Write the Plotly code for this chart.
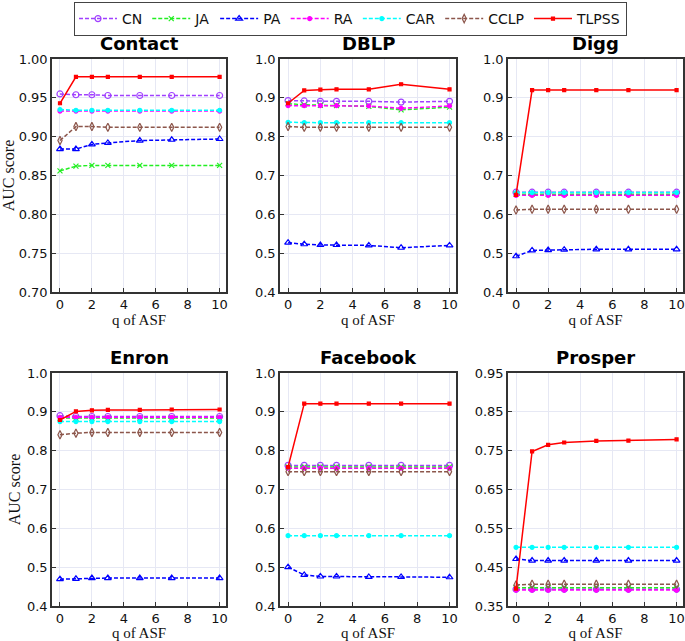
import plotly.graph_objects as go

q_values = [0, 1, 2, 3, 5, 7, 10]
datasets = ["Contact", "DBLP", "Digg", "Enron", "Facebook", "Prosper"]
methods = ["CN", "JA", "PA", "RA", "CAR", "CCLP", "TLPSS"]

contact = {
    "CN":    [0.955, 0.954, 0.954, 0.953, 0.953, 0.953, 0.953],
    "JA":    [0.856, 0.862, 0.863, 0.863, 0.863, 0.863, 0.863],
    "PA":    [0.884, 0.884, 0.890, 0.892, 0.895, 0.896, 0.897],
    "RA":    [0.933, 0.933, 0.933, 0.933, 0.933, 0.933, 0.933],
    "CAR":   [0.935, 0.934, 0.934, 0.934, 0.934, 0.934, 0.934],
    "CCLP":  [0.895, 0.913, 0.913, 0.912, 0.912, 0.912, 0.912],
    "TLPSS": [0.943, 0.977, 0.977, 0.977, 0.977, 0.977, 0.977],
}
dblp = {
    "CN":    [0.893, 0.892, 0.891, 0.891, 0.891, 0.889, 0.891],
    "JA":    [0.885, 0.882, 0.881, 0.880, 0.878, 0.869, 0.876],
    "PA":    [0.527, 0.523, 0.521, 0.521, 0.520, 0.514, 0.520],
    "RA":    [0.880, 0.880, 0.880, 0.880, 0.879, 0.873, 0.879],
    "CAR":   [0.837, 0.836, 0.836, 0.836, 0.836, 0.836, 0.836],
    "CCLP":  [0.826, 0.824, 0.824, 0.824, 0.824, 0.824, 0.824],
    "TLPSS": [0.886, 0.919, 0.921, 0.922, 0.922, 0.935, 0.922],
}
digg = {
    "CN":    [0.657, 0.657, 0.657, 0.657, 0.657, 0.657, 0.657],
    "JA":    [0.652, 0.652, 0.652, 0.652, 0.652, 0.652, 0.652],
    "PA":    [0.492, 0.507, 0.508, 0.509, 0.510, 0.510, 0.510],
    "RA":    [0.649, 0.649, 0.649, 0.649, 0.649, 0.649, 0.649],
    "CAR":   [0.656, 0.656, 0.656, 0.656, 0.656, 0.656, 0.656],
    "CCLP":  [0.611, 0.613, 0.613, 0.613, 0.613, 0.613, 0.613],
    "TLPSS": [0.650, 0.920, 0.920, 0.920, 0.920, 0.920, 0.920],
}
enron = {
    "CN":    [0.890, 0.888, 0.888, 0.888, 0.888, 0.888, 0.888],
    "JA":    [0.884, 0.884, 0.884, 0.884, 0.884, 0.884, 0.884],
    "PA":    [0.469, 0.470, 0.472, 0.472, 0.472, 0.472, 0.472],
    "RA":    [0.886, 0.886, 0.886, 0.886, 0.886, 0.886, 0.886],
    "CAR":   [0.875, 0.875, 0.875, 0.875, 0.875, 0.875, 0.875],
    "CCLP":  [0.841, 0.845, 0.847, 0.847, 0.847, 0.847, 0.847],
    "TLPSS": [0.879, 0.901, 0.904, 0.905, 0.905, 0.906, 0.906],
}
facebook = {
    "CN":    [0.762, 0.762, 0.762, 0.762, 0.762, 0.762, 0.762],
    "JA":    [0.758, 0.758, 0.758, 0.758, 0.758, 0.758, 0.758],
    "PA":    [0.500, 0.480, 0.476, 0.476, 0.475, 0.475, 0.474],
    "RA":    [0.755, 0.755, 0.755, 0.755, 0.755, 0.755, 0.755],
    "CAR":   [0.581, 0.581, 0.581, 0.581, 0.581, 0.581, 0.581],
    "CCLP":  [0.746, 0.746, 0.746, 0.746, 0.746, 0.746, 0.746],
    "TLPSS": [0.758, 0.921, 0.921, 0.921, 0.921, 0.921, 0.921],
}
prosper = {
    "CN":    [0.393, 0.393, 0.393, 0.393, 0.393, 0.393, 0.393],
    "JA":    [0.397, 0.397, 0.397, 0.397, 0.397, 0.397, 0.397],
    "PA":    [0.471, 0.467, 0.467, 0.467, 0.467, 0.467, 0.467],
    "RA":    [0.391, 0.391, 0.391, 0.391, 0.391, 0.391, 0.391],
    "CAR":   [0.501, 0.501, 0.501, 0.501, 0.501, 0.501, 0.501],
    "CCLP":  [0.404, 0.406, 0.406, 0.406, 0.406, 0.406, 0.406],
    "TLPSS": [0.395, 0.748, 0.765, 0.771, 0.775, 0.776, 0.779],
}
all_data = [contact, dblp, digg, enron, facebook, prosper]

y_ranges = [[0.70, 1.00], [0.4, 1.0], [0.4, 1.0], [0.4, 1.0], [0.4, 1.0], [0.35, 0.95]]
y_tickvals = [
    [0.70, 0.75, 0.80, 0.85, 0.90, 0.95, 1.00],
    [0.4, 0.5, 0.6, 0.7, 0.8, 0.9, 1.0],
    [0.4, 0.5, 0.6, 0.7, 0.8, 0.9, 1.0],
    [0.4, 0.5, 0.6, 0.7, 0.8, 0.9, 1.0],
    [0.4, 0.5, 0.6, 0.7, 0.8, 0.9, 1.0],
    [0.35, 0.45, 0.55, 0.65, 0.75, 0.85, 0.95],
]
y_ticktext = [
    ["0.70", "0.75", "0.80", "0.85", "0.90", "0.95", "1.00"],
    ["0.4", "0.5", "0.6", "0.7", "0.8", "0.9", "1.0"],
    ["0.4", "0.5", "0.6", "0.7", "0.8", "0.9", "1.0"],
    ["0.4", "0.5", "0.6", "0.7", "0.8", "0.9", "1.0"],
    ["0.4", "0.5", "0.6", "0.7", "0.8", "0.9", "1.0"],
    ["0.35", "0.45", "0.55", "0.65", "0.75", "0.85", "0.95"],
]
x_tickvals = [0, 2, 4, 6, 8, 10]

styles = {
    "CN":    dict(color="#a040ff", symbol="circle-open", size=6, dash="4px,2px"),
    "JA":    dict(color="#22ee22", symbol="x-thin-open", size=5, dash="4px,2px"),
    "PA":    dict(color="#0000ff", symbol="triangle-up-open", size=6, dash="4px,2px"),
    "RA":    dict(color="#ff00ff", symbol="circle", size=4, dash="4px,2px"),
    "CAR":   dict(color="#00ffff", symbol="circle", size=4, dash="4px,2px"),
    "CCLP":  dict(color="#8c564b", symbol="diamond-tall-open", size=6, dash="4px,2px"),
    "TLPSS": dict(color="#ff0000", symbol="square", size=3, dash="solid"),
}

W, H = 685, 641
x_px = [(52, 226), (280, 456), (508, 683)]
y_px = [(59, 292), (373, 606)]

fig = go.Figure()
for i, (name, data) in enumerate(zip(datasets, all_data)):
    ax = i + 1
    suffix = "" if ax == 1 else str(ax)
    for m in methods:
        s = styles[m]
        fig.add_trace(go.Scatter(
            x=q_values, y=data[m], mode="lines+markers", name=m,
            legendgroup=m, showlegend=(i == 0),
            line=dict(color=s["color"], width=1.5, dash=s["dash"]),
            marker=dict(symbol=s["symbol"], size=s["size"], color=s["color"],
                        line=dict(color=s["color"], width=1.2)),
            xaxis="x" + suffix, yaxis="y" + suffix,
        ))
    col, row = i % 3, i // 3
    xd = [x_px[col][0] / W, x_px[col][1] / W]
    yd = [1 - y_px[row][1] / H, 1 - y_px[row][0] / H]
    axis_common = dict(showline=True, linecolor="#333333", linewidth=1.5, mirror=True,
                       showgrid=True, gridcolor="#e6e8f4", gridwidth=1,
                       ticks="inside", ticklen=4, tickcolor="#333333", zeroline=False,
                       automargin=False,
                       tickfont=dict(family="DejaVu Sans", size=13, color="#111111"))
    fig.layout["xaxis" + suffix] = dict(
        domain=xd, anchor="y" + suffix, range=[-0.5, 10.4],
        tickvals=x_tickvals,
        title=dict(text="q of ASF", font=dict(family="Liberation Serif", size=15, color="#111111"),
                   standoff=2),
        **axis_common)
    fig.layout["yaxis" + suffix] = dict(
        domain=yd, anchor="x" + suffix, range=y_ranges[i],
        tickvals=y_tickvals[i], ticktext=y_ticktext[i],
        title=dict(text="AUC score" if col == 0 else "",
                   font=dict(family="Liberation Serif", size=16, color="#111111"), standoff=2),
        **axis_common)
    fig.add_annotation(text="<b>" + name + "</b>", x=(xd[0] + xd[1]) / 2, y=yd[1],
                       xref="paper", yref="paper", xanchor="center", yanchor="bottom",
                       yshift=3, showarrow=False,
                       font=dict(family="DejaVu Sans", size=18, color="#000000"))

fig.update_layout(
    width=W, height=H,
    margin=dict(l=0, r=0, t=0, b=0, autoexpand=False),
    paper_bgcolor="white", plot_bgcolor="white",
    legend=dict(orientation="h", x=74 / W, xanchor="left", y=1 - 2 / H, yanchor="top",
                bordercolor="#444444", borderwidth=1, bgcolor="white",
                font=dict(family="DejaVu Sans", size=14, color="#111111"),
                itemwidth=38, tracegroupgap=0),
)

fig.write_html("out.html", config={"displayModeBar": False},
               post_script="document.body.style.margin='0';document.body.style.overflow='hidden';")
